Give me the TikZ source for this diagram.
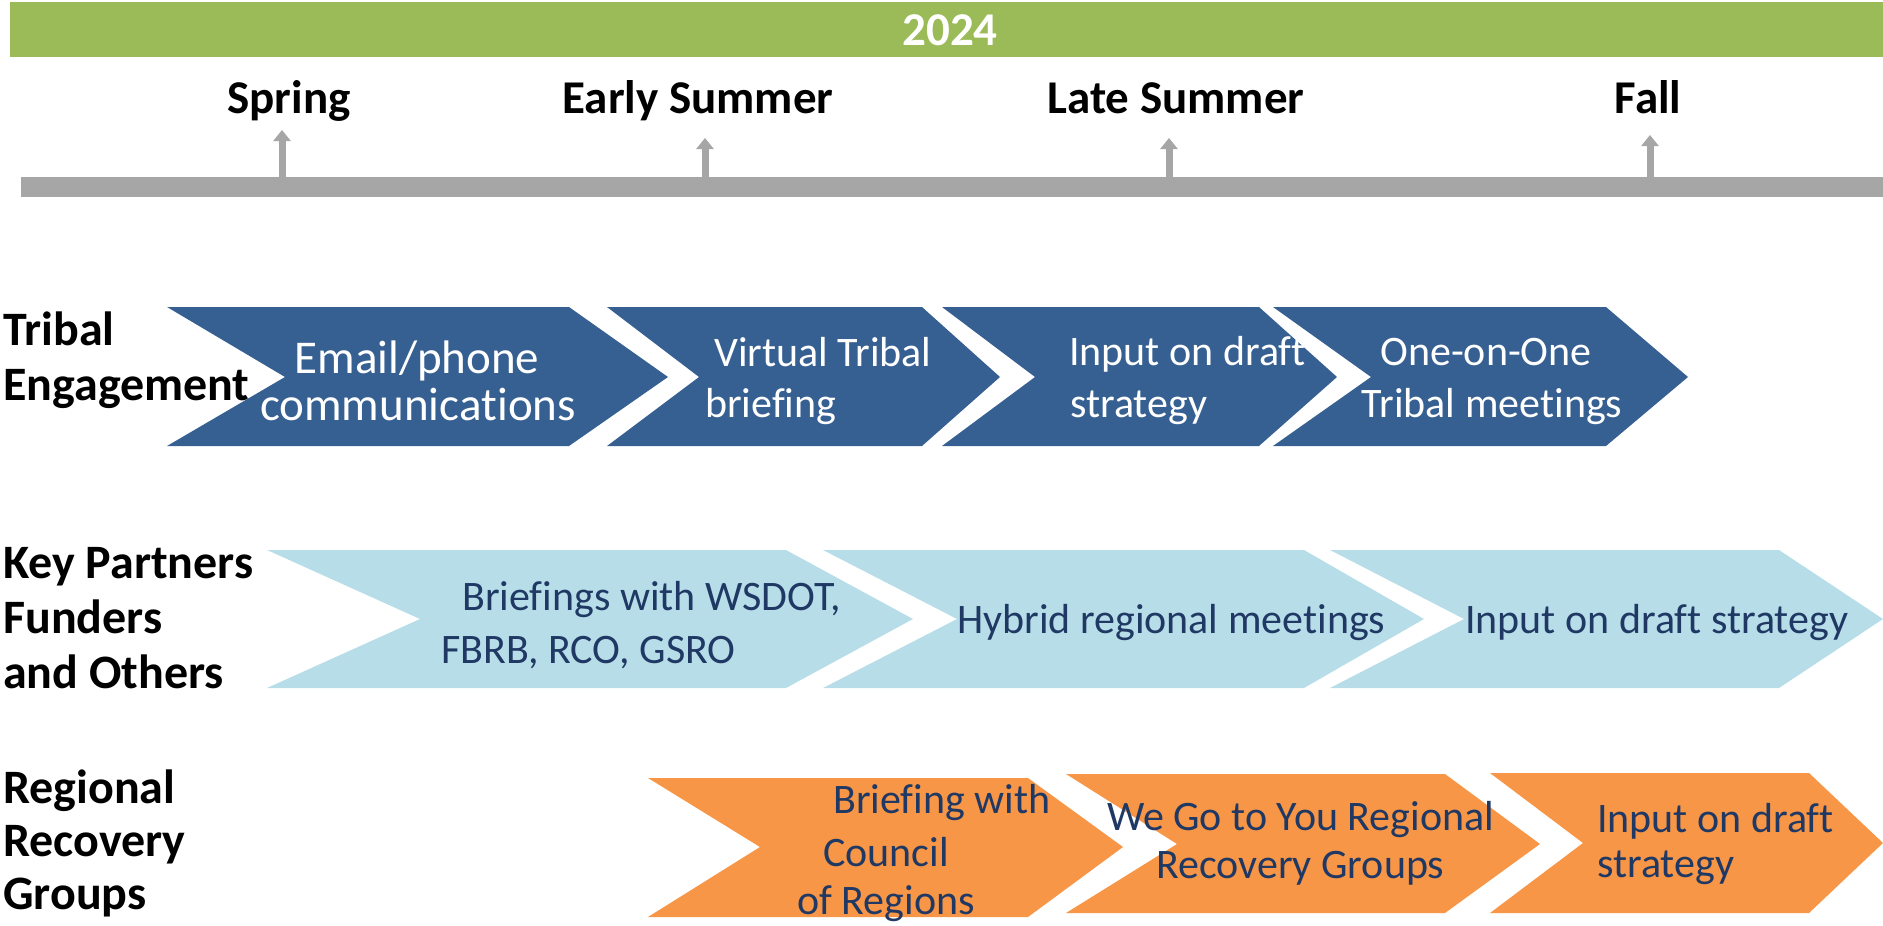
\documentclass[tikz,border=0pt]{standalone}
\usepackage{fontspec}
\setmainfont{Carlito}[Ligatures={NoCommon,NoRare,NoContextual},RawFeature={-liga;-dlig;-clig;-calt}]
\usetikzlibrary{arrows.meta}
\definecolor{tgreen}{RGB}{155,187,89}
\definecolor{tgray}{RGB}{166,166,166}
\definecolor{tblue}{RGB}{55,96,146}
\definecolor{tlight}{RGB}{183,222,232}
\definecolor{torange}{RGB}{247,150,70}
\definecolor{tnavy}{RGB}{31,56,100}
\newcommand{\nolig}{\kern0pt }
\tikzset{
  rowlbl/.style={anchor=base west, inner sep=0pt, text=black, font=\fontsize{48}{56}\selectfont\bfseries},
  season/.style={anchor=base, inner sep=0pt, text=black, font=\fontsize{47}{56}\selectfont\bfseries},
  wtxt/.style={anchor=base west, inner sep=0pt, text=white, font=\fontsize{42}{50}\selectfont},
  wbig/.style={anchor=base, inner sep=0pt, text=white, font=\fontsize{47}{56}\selectfont},
  ntxt/.style={anchor=base west, inner sep=0pt, text=tnavy, font=\fontsize{42}{50}\selectfont},
  tickarrow/.style={draw=tgray, line width=7pt, -{Triangle[width=17pt,length=11pt]}},
}
\begin{document}
\begin{tikzpicture}[x=1pt,y=-1pt]
\useasboundingbox (0,0) rectangle (1883,926);

% header
\fill[tgreen] (10,2) rectangle (1883,57);
\node[anchor=base, inner sep=0pt, text=white, font=\fontsize{47}{56}\selectfont\bfseries] (year) at (950,45) {2024};

% timeline
\fill[tgray] (21,177) rectangle (1883,197);
\coordinate (a0) at (282,178); \coordinate (a1) at (282,130);
\coordinate (b0) at (705,178); \coordinate (b1) at (705,138);
\coordinate (c0) at (1169,178); \coordinate (c1) at (1169,138);
\coordinate (d0) at (1650,178); \coordinate (d1) at (1650,135);
\draw[tickarrow] (a0) -- (a1);
\draw[tickarrow] (b0) -- (b1);
\draw[tickarrow] (c0) -- (c1);
\draw[tickarrow] (d0) -- (d1);
\node[season] (spring) at (289,113) {Spring};
\node[season] (esummer) at (698,113) {Early Summer};
\node[season] (lsummer) at (1176,113) {Late Summer};
\node[season] (fall) at (1648,113) {Fall};

% row 1 chevrons
\fill[tblue] (167,307) -- (569,307) -- (668,377) -- (569,446) -- (167,446) -- (285,377) -- cycle;
\fill[tblue] (607,307) -- (922,307) -- (1000,377) -- (922,446) -- (607,446) -- (699,377) -- cycle;
\fill[tblue] (942,307) -- (1259,307) -- (1337,377) -- (1259,446) -- (942,446) -- (1035,377) -- cycle;
\fill[tblue] (1273,307) -- (1606,307) -- (1688,377) -- (1606,446) -- (1273,446) -- (1371,377) -- cycle;

% row 2 chevrons
\fill[tlight] (267,550) -- (786,550) -- (913,619) -- (786,688) -- (267,688) -- (420,619) -- cycle;
\fill[tlight] (823,550) -- (1304,550) -- (1424,619) -- (1304,688) -- (823,688) -- (957,619) -- cycle;
\fill[tlight] (1330,550) -- (1779,550) -- (1883,619) -- (1779,688) -- (1330,688) -- (1464,619) -- cycle;

% row 3 chevrons
\fill[torange] (648,778) -- (1028,778) -- (1123,847) -- (1028,917) -- (648,917) -- (760,847) -- cycle;
\fill[torange] (1066,774) -- (1445,774) -- (1540,844) -- (1445,913) -- (1066,913) -- (1177,844) -- cycle;
\fill[torange] (1490,773) -- (1809,773) -- (1883,843) -- (1809,913) -- (1490,913) -- (1583,843) -- cycle;

% row 1 texts
\node[wbig] (t1a) at (417,373) {Email/phone};
\node[wbig] (t1b) at (418,420) {communica\nolig tions};
\node[wtxt] (t2a) at (714,366) {Virtual Tribal};
\node[wtxt] (t2b) at (705,417) {brief\nolig ing};
\node[wtxt] (t3a) at (1069,365) {Input on draf\nolig t};
\node[wtxt] (t3b) at (1070,417) {strategy};
\node[wtxt, anchor=base] (t4a) at (1486,365) {One-on-One};
\node[wtxt, anchor=base] (t4b) at (1492,417) {Tribal mee\nolig tings};

% row 2 texts
\node[ntxt] (k1a) at (462,610) {Brief\nolig ings with WSDOT,};
\node[ntxt] (k1b) at (441,663) {FBRB, RCO, GSRO};
\node[ntxt] (k2) at (957,633) {Hybrid regional mee\nolig tings};
\node[ntxt] (k3) at (1465,633) {Input on draf\nolig t strategy};

% row 3 texts
\node[ntxt] (r1a) at (833,813) {Brief\nolig ing with};
\node[ntxt] (r1b) at (823,866) {Council};
\node[ntxt] (r1c) at (797,914) {of Regions};
\node[ntxt] (r2a) at (1107,830) {We Go to You Regional};
\node[ntxt] (r2b) at (1156,878) {Recovery Groups};
\node[ntxt] (r3a) at (1597,832) {Input on draf\nolig t};
\node[ntxt] (r3b) at (1597,877) {strategy};

% row labels
\node[rowlbl] (l1a) at (3,345) {Tribal};
\node[rowlbl] (l1b) at (3,400) {Engagement};
\node[rowlbl] (l2a) at (3,578) {Key Partners};
\node[rowlbl] (l2b) at (3,633) {Funders};
\node[rowlbl] (l2c) at (3,688) {and Others};
\node[rowlbl] (l3a) at (3,803) {Regional};
\node[rowlbl] (l3b) at (3,856) {Recovery};
\node[rowlbl] (l3c) at (3,909) {Groups};
\end{tikzpicture}
\end{document}
